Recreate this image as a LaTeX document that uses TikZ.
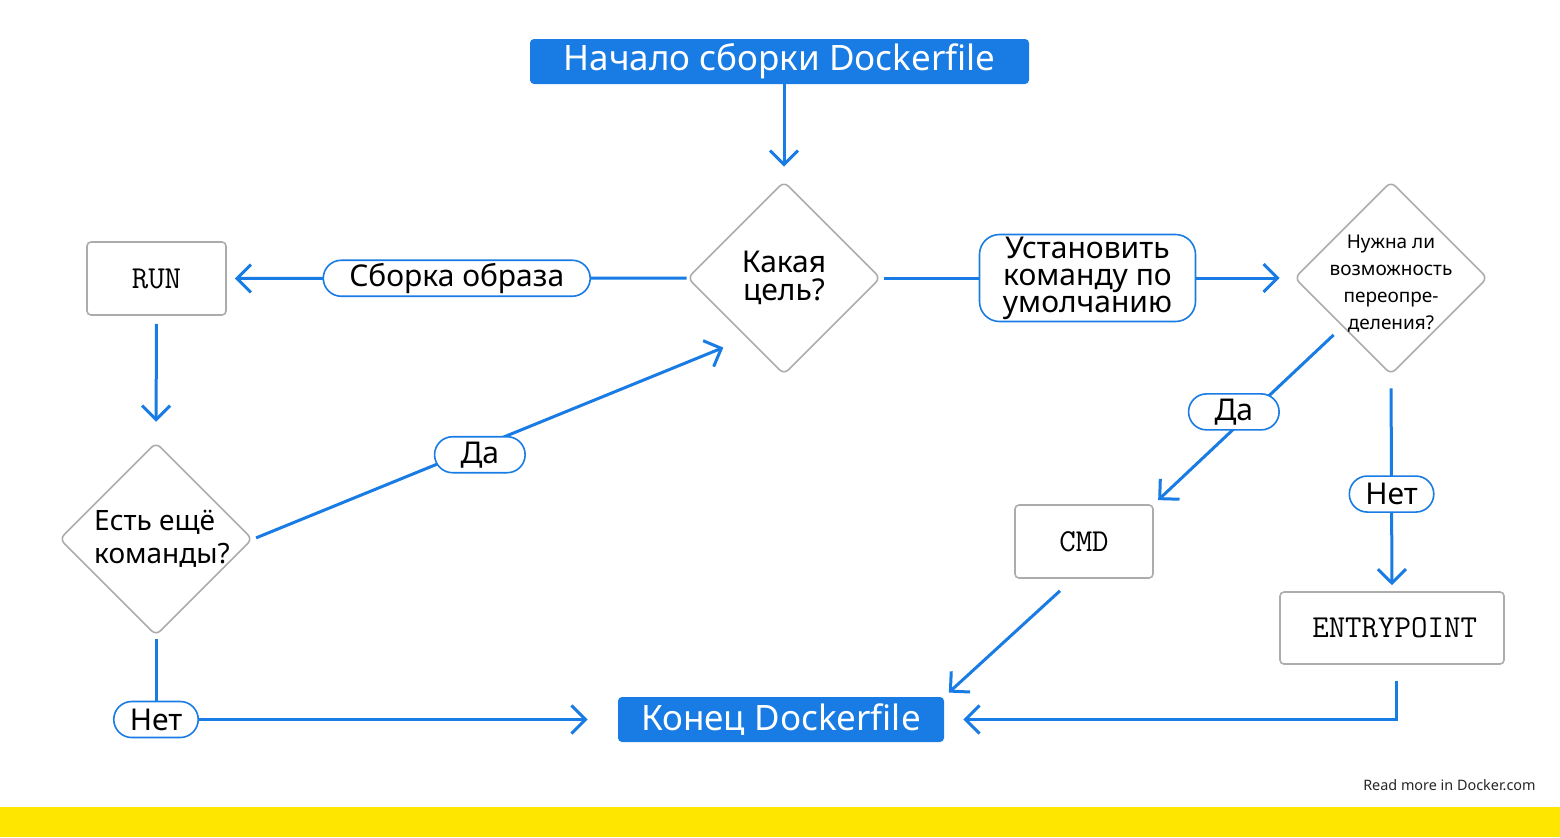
\documentclass[tikz,border=0pt]{standalone}
\usepackage{fontspec}
\setmainfont{Noto Sans}
\usepackage{tikz}
\usetikzlibrary{
	shapes.geometric,   % ромбы
	calc,               % вычисления
	positioning,        % относительное размещение
	arrows.meta         % стрелки
}
\definecolor{dockblue}{RGB}{24,124,228}
\definecolor{linegray}{RGB}{172,172,172}
\definecolor{baryellow}{RGB}{255,230,0}
\tikzset{
	every picture/.style={
		>={Straight Barb[length=7pt,width=14pt]},
		x=0.5pt,y=-0.5pt
}}
\tikzset{
	terminal/.style={rectangle,fill=dockblue,text=white,
		rounded corners=2pt,inner sep=0pt,font=\fontsize{17.5}{19}\selectfont},
	decision/.style={diamond,draw=linegray,line width=0.8pt,
		rounded corners=3pt,aspect=1,minimum size=96.5pt,inner sep=0pt,
		align=center,font=\fontsize{15}{14}\selectfont},
	cmdbox/.style={rectangle,draw=linegray,line width=0.8pt,
		rounded corners=2pt,font=\fontsize{16}{18}\ttfamily},
	answer/.style={rectangle,draw=dockblue,fill=white,line width=0.8pt,
		rounded corners=9pt,minimum height=18pt,
		inner xsep=13pt,inner ysep=1pt,font=\fontsize{15}{15}\selectfont},
	flow/.style={draw=dockblue,line width=1.5pt}
}
\begin{document}
\begin{tikzpicture}
\fill[white] (0,0) rectangle (1560,837);
\useasboundingbox (0,0) rectangle (1560,837);
\fill[baryellow] (0,807) rectangle (1560,837);

% узлы
\node[terminal,minimum width=249.5pt,minimum height=22.5pt] (start) at (779.5,61.5) {Начало сборки Dockerfile};
\node[decision] (goal) at (784,278) {Какая\\цель?};
\node[cmdbox,minimum width=69.5pt,minimum height=36.5pt] (run) at (156.5,278.5) {RUN};
\node[decision,align=left,inner sep=-6pt,font=\fontsize{14}{16.5}\selectfont] (more) at (156,539) {\hspace*{6pt}Есть ещё\\\hspace*{6pt}команды?};
\node[decision,font=\fontsize{9.5}{13.5}\selectfont,inner sep=-9pt] (ovr) at (1391,278) {\strut\\[-11pt]Нужна ли\\возможность\\переопре-\\деления?};
\node[cmdbox,minimum width=69pt,minimum height=36.5pt] (cmd) at (1084,541.5) {CMD};
\node[cmdbox,minimum width=112pt,minimum height=36pt] (entry) at (1392,628) {\,ENTRYPOINT};
\node[terminal,minimum width=163pt,minimum height=22.5pt] (end) at (781,719.5) {Конец Dockerfile};
\node[anchor=east,inner sep=0pt,text=black!85,font=\fontsize{7.2}{9}\selectfont] (note) at (1536,785) {Read more in Docker.com};

% связи
\draw[flow,->,shorten >=7pt] (goal.north |- start.south) -- (goal.north);
\draw[flow,->,shorten >=4pt] (goal.west) -- node[answer] {Сборка образа} (run.east);
\draw[flow,->,shorten <=4pt,shorten >=10pt] (run.south) -- (more.north);
\draw[flow,->,shorten <=1.5pt,shorten >=6.5pt] (more.east) -- node[answer,pos=0.47,yshift=-4pt] {Да} ([yshift=-8pt]goal.south west);
\draw[flow,->,shorten <=1.5pt,shorten >=15pt] (more.south) |- node[answer,inner xsep=8pt] {Нет} (end.west);
\draw[flow,->,shorten <=1.5pt,shorten >=7pt] (goal.east) -- node[answer,inner xsep=6pt,minimum width=108pt,minimum height=43.5pt,rounded corners=10pt,align=center,font=\fontsize{15}{13.5}\selectfont] {Установить\\команду по\\умолчанию} (ovr.west);
\draw[flow,->,shorten <=6pt,shorten >=3pt] (ovr.south west) -- node[answer,pos=0.48,xshift=-9pt] {Да} (cmd.north east);
\draw[flow,->,shorten <=6.5pt,shorten >=3pt] (ovr.south) -- node[answer,pos=0.55,inner xsep=8pt] {Нет} (entry.north);
\draw[flow,->,shorten >=3pt] ([xshift=-12pt,yshift=-6pt]cmd.south) -- (end.north east);
\draw[flow,->,shorten <=8pt,shorten >=9.5pt] ([xshift=2pt]entry.south) |- (end.east);
\end{tikzpicture}
\end{document}
